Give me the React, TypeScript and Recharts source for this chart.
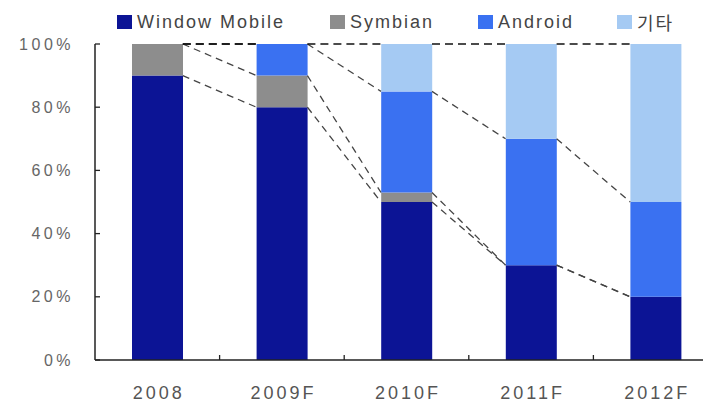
import React from 'react';
import { ComposedChart, Bar, Scatter, XAxis, YAxis, Legend } from 'recharts';

const categories = ['2008', '2009F', '2010F', '2011F', '2012F'];
const windowMobile = [90, 80, 50, 30, 20];
const symbian = [10, 10, 3, 0, 0];
const android = [0, 10, 32, 40, 30];
const others = [0, 0, 15, 30, 50];
const yTicks = [0, 20, 40, 60, 80, 100];

const series = [
  { key: 'wm', name: 'Window Mobile', values: windowMobile, color: '#0c1495' },
  { key: 'sym', name: 'Symbian', values: symbian, color: '#8d8d8d' },
  { key: 'and', name: 'Android', values: android, color: '#3a71f1' },
  { key: 'oth', name: '기타', values: others, color: '#a5caf3' },
];

const CHART_W = 760;
const CHART_H = 405;
const MARGIN = { top: 44, right: 42, bottom: 15, left: 0 };
const Y_AXIS_W = 95;
const BAR_SIZE = 51;
const PLOT_W = CHART_W - MARGIN.left - MARGIN.right - Y_AXIS_W;
const BAND_PX = PLOT_W / categories.length;
const HALF = BAR_SIZE / 2 / BAND_PX;

const FONT = '"Liberation Sans", Arial, "Noto Sans CJK KR", sans-serif';

const data = categories.map((c, i) => {
  const row: any = { name: c };
  series.forEach((s) => (row[s.key] = s.values[i]));
  return row;
});

// cumulative tops per series
const cumulative = series.map((_, si) =>
  categories.map((__, i) => series.slice(0, si + 1).reduce((a, s) => a + s.values[i], 0))
);

const connectors: { id: string; top: boolean; pts: { x: number; y: number }[] }[] = [];
cumulative.forEach((cum, si) => {
  for (let i = 0; i < categories.length - 1; i++) {
    connectors.push({
      id: `c-${si}-${i}`,
      top: cum[i] === 100 && cum[i + 1] === 100,
      pts: [
        { x: i + 0.5 + HALF, y: cum[i] },
        { x: i + 1.5 - HALF, y: cum[i + 1] },
      ],
    });
  }
});

const xTicks: number[] = [];
categories.forEach((_, i) => {
  xTicks.push(i + 0.5);
  if (i > 0) xTicks.push(i);
});
xTicks.sort((a, b) => a - b);

const XTick = (props: any) => {
  const { x, y, payload } = props;
  const v = payload.value;
  if (Number.isInteger(v)) {
    return <line x1={x} x2={x} y1={y} y2={y - 5} stroke="#222" strokeWidth={1.3} />;
  }
  return (
    <text
      x={x + 1.5}
      y={y + 39}
      textAnchor="middle"
      fill="#555"
      fontSize={18}
      letterSpacing={3}
      fontFamily={FONT}
    >
      {categories[Math.floor(v)]}
    </text>
  );
};

const itemWidths = [213, 148, 139, 80];

const renderLegend = () => (
  <div
    style={{
      display: 'flex',
      alignItems: 'center',
      paddingLeft: 117,
      height: 22,
      fontFamily: FONT,
    }}
  >
    {series.map((s, i) => (
      <div key={s.key} style={{ display: 'flex', alignItems: 'center', width: itemWidths[i] }}>
        <span style={{ display: 'inline-block', width: 15, height: 14, background: s.color, marginRight: 5 }} />
        <span style={{ fontSize: 18, letterSpacing: 2, color: '#444', whiteSpace: 'nowrap' }}>{s.name}</span>
      </div>
    ))}
  </div>
);

export default function App() {
  return (
    <div
      style={{
        position: 'absolute',
        left: 0,
        top: 0,
        width: 703,
        height: 405,
        overflow: 'hidden',
        background: '#fff',
      }}
    >
      <ComposedChart width={CHART_W} height={CHART_H} data={data} margin={MARGIN}>
        <XAxis
          xAxisId="num"
          dataKey="x"
          type="number"
          domain={[0, categories.length]}
          allowDataOverflow
          ticks={xTicks}
          interval={0}
          tick={<XTick />}
          tickLine={false}
          tickSize={0}
          tickMargin={0}
          height={30}
          axisLine={{ stroke: '#222', strokeWidth: 1.5 }}
        />
        <XAxis xAxisId="cat" dataKey="name" type="category" hide height={0} />
        <YAxis
          type="number"
          domain={[0, 100]}
          ticks={yTicks}
          interval={0}
          width={Y_AXIS_W}
          tickFormatter={(v: number) => `${v}%`}
          tickSize={-5}
          tickMargin={26}
          axisLine={{ stroke: '#222', strokeWidth: 1.5 }}
          tickLine={{ stroke: '#222', strokeWidth: 1.3 }}
          tick={{ fill: '#666', fontSize: 16, letterSpacing: 3.5, fontFamily: FONT }}
        />
        <Legend
          verticalAlign="middle"
          align="center"
          layout="horizontal"
          wrapperStyle={{ top: 11, left: 0, width: 703 }}
          content={renderLegend}
        />
        {series.map((s) => (
          <Bar
            key={s.key}
            xAxisId="cat"
            dataKey={s.key}
            name={s.name}
            stackId="a"
            fill={s.color}
            barSize={BAR_SIZE}
            isAnimationActive={false}
          />
        ))}
        {connectors.map((c) => (
          <Scatter
            key={c.id}
            xAxisId="num"
            data={c.pts}
            dataKey="y"
            legendType="none"
            line={
              c.top
                ? { stroke: '#111', strokeWidth: 1.6, strokeDasharray: '8 5' }
                : { stroke: '#444', strokeWidth: 1.3, strokeDasharray: '7 5' }
            }
            shape={() => <g />}
            isAnimationActive={false}
          />
        ))}
      </ComposedChart>
    </div>
  );
}
